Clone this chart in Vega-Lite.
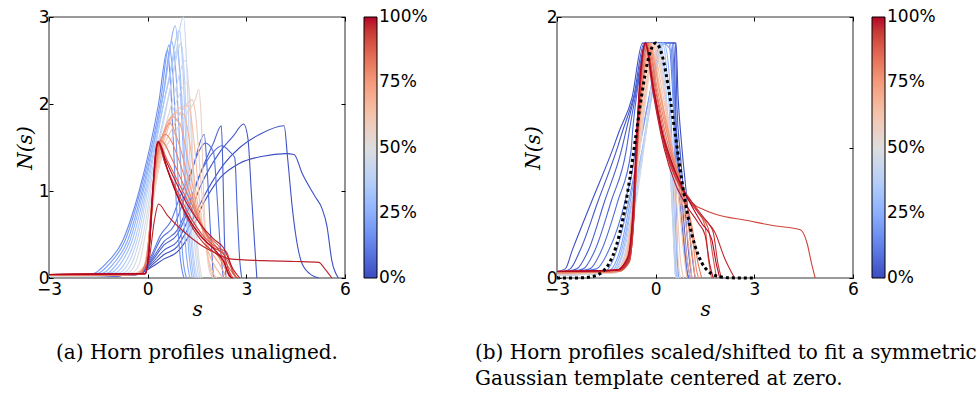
{
"$schema": "https://vega.github.io/schema/vega-lite/v6.json",
"background": "white",
"padding": {"left": 14, "top": 7, "right": 5, "bottom": 5},
"config": {
 "view": {"stroke": "#7a7a7a", "strokeWidth": 1.6},
 "axis": {"labelFont": "DejaVu Sans", "labelFontSize": 17, "labelColor": "#000", "tickColor": "#000", "tickSize": -4, "tickWidth": 1, "domain": false, "grid": false, "labelFlush": false, "labelOverlap": false, "labelBound": false, "format": "d", "titleFont": "DejaVu Serif", "titleFontStyle": "italic", "titleFontWeight": "normal", "titleFontSize": 20, "titleColor": "#000"},
 "legend": {"gradientLength": 261, "gradientThickness": 13, "gradientStrokeColor": "#000", "gradientStrokeWidth": 1, "labelFont": "DejaVu Sans", "labelFontSize": 17, "labelColor": "#000", "labelOffset": 2, "labelBaseline": "middle", "labelOverlap": false, "offset": 18, "padding": 0},
 "title": {"font": "DejaVu Serif", "fontSize": 20, "fontWeight": "normal", "color": "#000", "orient": "bottom", "lineHeight": 26}
},
"datasets": {
"a": [
{"p":0.5,"s":-3,"n":0.02},{"p":0.5,"s":-1.5,"n":0.02},{"p":0.5,"s":-0.3,"n":0.04},{"p":0.5,"s":0.1,"n":0.12},{"p":0.5,"s":0.5,"n":0.22},{"p":0.5,"s":0.9,"n":0.3},{"p":0.5,"s":1.2,"n":0.45},{"p":0.5,"s":1.7,"n":0.86},{"p":0.5,"s":2.2,"n":1.15},{"p":0.5,"s":2.8,"n":1.32},{"p":0.5,"s":3.5,"n":1.4},{"p":0.5,"s":4.2,"n":1.43},{"p":0.5,"s":4.45,"n":1.42},{"p":0.5,"s":4.7,"n":1.2},{"p":0.5,"s":5.1,"n":0.93},{"p":0.5,"s":5.3,"n":0.8},{"p":0.5,"s":5.45,"n":0.6},{"p":0.5,"s":5.6,"n":0.2},{"p":0.5,"s":5.8,"n":0},
{"p":1.5,"s":-3,"n":0.02},{"p":1.5,"s":-1.5,"n":0.02},{"p":1.5,"s":-0.3,"n":0.04},{"p":1.5,"s":0.1,"n":0.14},{"p":1.5,"s":0.5,"n":0.27},{"p":1.5,"s":0.9,"n":0.36},{"p":1.5,"s":1.2,"n":0.55},{"p":1.5,"s":1.8,"n":1.0},{"p":1.5,"s":2.3,"n":1.3},{"p":1.5,"s":2.8,"n":1.5},{"p":1.5,"s":3.4,"n":1.65},{"p":1.5,"s":4.15,"n":1.75},{"p":1.5,"s":4.25,"n":1.4},{"p":1.5,"s":4.4,"n":0.8},{"p":1.5,"s":4.5,"n":0.5},{"p":1.5,"s":4.7,"n":0.16},{"p":1.5,"s":5.0,"n":0.03},{"p":1.5,"s":5.2,"n":0},
{"p":3,"s":-3,"n":0.02},{"p":3,"s":-1.5,"n":0.02},{"p":3,"s":-0.3,"n":0.04},{"p":3,"s":0.1,"n":0.16},{"p":3,"s":0.5,"n":0.32},{"p":3,"s":0.9,"n":0.42},{"p":3,"s":1.2,"n":0.65},{"p":3,"s":1.6,"n":1.05},{"p":3,"s":2.2,"n":1.45},{"p":3,"s":2.6,"n":1.63},{"p":3,"s":2.92,"n":1.77},{"p":3,"s":3.05,"n":1.6},{"p":3,"s":3.15,"n":1.0},{"p":3,"s":3.25,"n":0.4},{"p":3,"s":3.32,"n":0},
{"p":4.5,"s":-3,"n":0.02},{"p":4.5,"s":-1.5,"n":0.02},{"p":4.5,"s":-0.3,"n":0.04},{"p":4.5,"s":0.1,"n":0.18},{"p":4.5,"s":0.5,"n":0.38},{"p":4.5,"s":0.9,"n":0.5},{"p":4.5,"s":1.2,"n":0.75},{"p":4.5,"s":1.6,"n":1.2},{"p":4.5,"s":2.0,"n":1.55},{"p":4.5,"s":2.24,"n":1.75},{"p":4.5,"s":2.29,"n":1.2},{"p":4.5,"s":2.33,"n":0.5},{"p":4.5,"s":2.38,"n":0},
{"p":6,"s":-3,"n":0.02},{"p":6,"s":-1.5,"n":0.02},{"p":6,"s":-0.3,"n":0.04},{"p":6,"s":0.1,"n":0.2},{"p":6,"s":0.5,"n":0.42},{"p":6,"s":0.9,"n":0.55},{"p":6,"s":1.2,"n":0.8},{"p":6,"s":1.6,"n":1.2},{"p":6,"s":2.0,"n":1.45},{"p":6,"s":2.26,"n":1.52},{"p":6,"s":2.5,"n":1.45},{"p":6,"s":2.65,"n":1.38},{"p":6,"s":2.72,"n":0.8},{"p":6,"s":2.8,"n":0.2},{"p":6,"s":2.86,"n":0},
{"p":7.5,"s":-3,"n":0.02},{"p":7.5,"s":-1.5,"n":0.02},{"p":7.5,"s":-0.3,"n":0.04},{"p":7.5,"s":0.1,"n":0.22},{"p":7.5,"s":0.4,"n":0.45},{"p":7.5,"s":0.8,"n":0.6},{"p":7.5,"s":1.1,"n":0.9},{"p":7.5,"s":1.4,"n":1.3},{"p":7.5,"s":1.72,"n":1.65},{"p":7.5,"s":1.8,"n":1.3},{"p":7.5,"s":1.9,"n":0.6},{"p":7.5,"s":2.0,"n":0},
{"p":9,"s":-3,"n":0.02},{"p":9,"s":-1.5,"n":0.02},{"p":9,"s":-0.3,"n":0.05},{"p":9,"s":0.1,"n":0.25},{"p":9,"s":0.4,"n":0.5},{"p":9,"s":0.7,"n":0.65},{"p":9,"s":1.0,"n":0.95},{"p":9,"s":1.3,"n":1.2},{"p":9,"s":1.55,"n":1.45},{"p":9,"s":1.75,"n":1.55},{"p":9,"s":2.0,"n":1.45},{"p":9,"s":2.1,"n":1.0},{"p":9,"s":2.2,"n":0.4},{"p":9,"s":2.3,"n":0},
{"p":15,"s":-3,"n":0.02},{"p":15,"s":-1.9,"n":0.03},{"p":15,"s":-1.58,"n":0.06},{"p":15,"s":-1.28,"n":0.16},{"p":15,"s":-0.77,"n":0.42},{"p":15,"s":-0.26,"n":1.0},{"p":15,"s":0.33,"n":2.0},{"p":15,"s":0.6,"n":2.62},{"p":15,"s":0.7,"n":2.2},{"p":15,"s":0.85,"n":1.0},{"p":15,"s":1.0,"n":0.2},{"p":15,"s":1.1,"n":0},
{"p":19,"s":-3,"n":0.02},{"p":19,"s":-1.8,"n":0.03},{"p":19,"s":-1.46,"n":0.06},{"p":19,"s":-1.17,"n":0.16},{"p":19,"s":-0.7,"n":0.42},{"p":19,"s":-0.22,"n":1.0},{"p":19,"s":0.4,"n":2.05},{"p":19,"s":0.65,"n":2.68},{"p":19,"s":0.77,"n":2.3},{"p":19,"s":0.93,"n":1.1},{"p":19,"s":1.08,"n":0.2},{"p":19,"s":1.18,"n":0},
{"p":23,"s":-3,"n":0.02},{"p":23,"s":-1.7,"n":0.03},{"p":23,"s":-1.33,"n":0.06},{"p":23,"s":-1.05,"n":0.16},{"p":23,"s":-0.62,"n":0.42},{"p":23,"s":-0.17,"n":1.0},{"p":23,"s":0.47,"n":2.1},{"p":23,"s":0.73,"n":2.72},{"p":23,"s":0.85,"n":2.4},{"p":23,"s":1.02,"n":1.2},{"p":23,"s":1.18,"n":0.25},{"p":23,"s":1.28,"n":0},
{"p":27,"s":-3,"n":0.02},{"p":27,"s":-1.6,"n":0.03},{"p":27,"s":-1.2,"n":0.06},{"p":27,"s":-0.94,"n":0.16},{"p":27,"s":-0.55,"n":0.42},{"p":27,"s":-0.13,"n":1.0},{"p":27,"s":0.52,"n":2.2},{"p":27,"s":0.84,"n":2.9},{"p":27,"s":0.95,"n":2.5},{"p":27,"s":1.1,"n":1.3},{"p":27,"s":1.25,"n":0.3},{"p":27,"s":1.35,"n":0},
{"p":31,"s":-3,"n":0.02},{"p":31,"s":-1.5,"n":0.03},{"p":31,"s":-1.1,"n":0.06},{"p":31,"s":-0.83,"n":0.16},{"p":31,"s":-0.48,"n":0.42},{"p":31,"s":-0.08,"n":1.0},{"p":31,"s":0.6,"n":2.2},{"p":31,"s":0.9,"n":2.62},{"p":31,"s":1.0,"n":2.3},{"p":31,"s":1.15,"n":1.2},{"p":31,"s":1.3,"n":0.3},{"p":31,"s":1.4,"n":0},
{"p":35,"s":-3,"n":0.02},{"p":35,"s":-1.4,"n":0.03},{"p":35,"s":-0.97,"n":0.06},{"p":35,"s":-0.71,"n":0.16},{"p":35,"s":-0.4,"n":0.42},{"p":35,"s":-0.04,"n":1.0},{"p":35,"s":0.65,"n":2.3},{"p":35,"s":0.97,"n":2.85},{"p":35,"s":1.07,"n":2.4},{"p":35,"s":1.2,"n":1.2},{"p":35,"s":1.35,"n":0.3},{"p":35,"s":1.45,"n":0},
{"p":39,"s":-3,"n":0.02},{"p":39,"s":-1.3,"n":0.03},{"p":39,"s":-0.85,"n":0.06},{"p":39,"s":-0.6,"n":0.16},{"p":39,"s":-0.33,"n":0.42},{"p":39,"s":0.0,"n":1.0},{"p":39,"s":0.7,"n":2.2},{"p":39,"s":1.02,"n":2.7},{"p":39,"s":1.12,"n":2.3},{"p":39,"s":1.25,"n":1.1},{"p":39,"s":1.4,"n":0.25},{"p":39,"s":1.5,"n":0},
{"p":43,"s":-3,"n":0.02},{"p":43,"s":-1.2,"n":0.03},{"p":43,"s":-0.72,"n":0.06},{"p":43,"s":-0.49,"n":0.16},{"p":43,"s":-0.26,"n":0.42},{"p":43,"s":0.05,"n":1.0},{"p":43,"s":0.75,"n":2.3},{"p":43,"s":1.09,"n":3.0},{"p":43,"s":1.18,"n":2.5},{"p":43,"s":1.3,"n":1.2},{"p":43,"s":1.45,"n":0.3},{"p":43,"s":1.55,"n":0},
{"p":47,"s":-3,"n":0.02},{"p":47,"s":-1.1,"n":0.03},{"p":47,"s":-0.6,"n":0.06},{"p":47,"s":-0.38,"n":0.16},{"p":47,"s":-0.18,"n":0.42},{"p":47,"s":0.1,"n":1.0},{"p":47,"s":0.8,"n":2.1},{"p":47,"s":1.15,"n":2.5},{"p":47,"s":1.25,"n":2.2},{"p":47,"s":1.38,"n":1.1},{"p":47,"s":1.5,"n":0.3},{"p":47,"s":1.6,"n":0},
{"p":51,"s":-3,"n":0.02},{"p":51,"s":-1.0,"n":0.03},{"p":51,"s":-0.47,"n":0.06},{"p":51,"s":-0.26,"n":0.16},{"p":51,"s":-0.11,"n":0.42},{"p":51,"s":0.14,"n":1.0},{"p":51,"s":0.9,"n":2.05},{"p":51,"s":1.2,"n":2.25},{"p":51,"s":1.3,"n":2.0},{"p":51,"s":1.42,"n":1.0},{"p":51,"s":1.55,"n":0.25},{"p":51,"s":1.65,"n":0},
{"p":56,"s":-3,"n":0.03},{"p":56,"s":-0.6,"n":0.04},{"p":56,"s":-0.15,"n":0.1},{"p":56,"s":0.05,"n":0.45},{"p":56,"s":0.2,"n":0.95},{"p":56,"s":0.4,"n":1.35},{"p":56,"s":0.8,"n":1.65},{"p":56,"s":1.2,"n":1.9},{"p":56,"s":1.45,"n":2.05},{"p":56,"s":1.55,"n":2.17},{"p":56,"s":1.62,"n":1.9},{"p":56,"s":1.7,"n":1.0},{"p":56,"s":1.8,"n":0.3},{"p":56,"s":1.9,"n":0.05},{"p":56,"s":2.0,"n":0},
{"p":60,"s":-3,"n":0.03},{"p":60,"s":-0.5,"n":0.04},{"p":60,"s":-0.12,"n":0.12},{"p":60,"s":0.07,"n":0.55},{"p":60,"s":0.22,"n":1.05},{"p":60,"s":0.4,"n":1.4},{"p":60,"s":0.75,"n":1.72},{"p":60,"s":1.1,"n":1.95},{"p":60,"s":1.35,"n":2.05},{"p":60,"s":1.45,"n":1.9},{"p":60,"s":1.6,"n":1.2},{"p":60,"s":1.75,"n":0.5},{"p":60,"s":1.9,"n":0.1},{"p":60,"s":2.0,"n":0},
{"p":64,"s":-3,"n":0.03},{"p":64,"s":-0.45,"n":0.04},{"p":64,"s":-0.1,"n":0.14},{"p":64,"s":0.08,"n":0.6},{"p":64,"s":0.22,"n":1.1},{"p":64,"s":0.4,"n":1.45},{"p":64,"s":0.65,"n":1.75},{"p":64,"s":0.95,"n":1.95},{"p":64,"s":1.25,"n":1.98},{"p":64,"s":1.4,"n":1.6},{"p":64,"s":1.6,"n":0.8},{"p":64,"s":1.8,"n":0.3},{"p":64,"s":2.0,"n":0.05},{"p":64,"s":2.1,"n":0},
{"p":68,"s":-3,"n":0.03},{"p":68,"s":-0.4,"n":0.04},{"p":68,"s":-0.08,"n":0.15},{"p":68,"s":0.09,"n":0.65},{"p":68,"s":0.22,"n":1.15},{"p":68,"s":0.4,"n":1.5},{"p":68,"s":0.6,"n":1.75},{"p":68,"s":0.85,"n":1.9},{"p":68,"s":1.1,"n":1.88},{"p":68,"s":1.3,"n":1.5},{"p":68,"s":1.5,"n":0.9},{"p":68,"s":1.8,"n":0.35},{"p":68,"s":2.1,"n":0.1},{"p":68,"s":2.3,"n":0},
{"p":72,"s":-3,"n":0.03},{"p":72,"s":-0.35,"n":0.04},{"p":72,"s":-0.06,"n":0.17},{"p":72,"s":0.1,"n":0.7},{"p":72,"s":0.23,"n":1.2},{"p":72,"s":0.4,"n":1.55},{"p":72,"s":0.55,"n":1.75},{"p":72,"s":0.75,"n":1.85},{"p":72,"s":1.0,"n":1.75},{"p":72,"s":1.25,"n":1.3},{"p":72,"s":1.5,"n":0.8},{"p":72,"s":1.8,"n":0.4},{"p":72,"s":2.2,"n":0.15},{"p":72,"s":2.4,"n":0},
{"p":76,"s":-3,"n":0.03},{"p":76,"s":-0.3,"n":0.04},{"p":76,"s":-0.05,"n":0.18},{"p":76,"s":0.1,"n":0.75},{"p":76,"s":0.24,"n":1.25},{"p":76,"s":0.4,"n":1.58},{"p":76,"s":0.55,"n":1.72},{"p":76,"s":0.68,"n":1.78},{"p":76,"s":0.9,"n":1.6},{"p":76,"s":1.2,"n":1.2},{"p":76,"s":1.5,"n":0.75},{"p":76,"s":1.9,"n":0.4},{"p":76,"s":2.3,"n":0.15},{"p":76,"s":2.5,"n":0},
{"p":80,"s":-3,"n":0.03},{"p":80,"s":-0.28,"n":0.04},{"p":80,"s":-0.04,"n":0.2},{"p":80,"s":0.11,"n":0.8},{"p":80,"s":0.25,"n":1.3},{"p":80,"s":0.4,"n":1.6},{"p":80,"s":0.55,"n":1.65},{"p":80,"s":0.75,"n":1.55},{"p":80,"s":1.0,"n":1.3},{"p":80,"s":1.3,"n":0.95},{"p":80,"s":1.6,"n":0.65},{"p":80,"s":2.0,"n":0.35},{"p":80,"s":2.4,"n":0.12},{"p":80,"s":2.6,"n":0},
{"p":84,"s":-3,"n":0.03},{"p":84,"s":-0.25,"n":0.04},{"p":84,"s":-0.02,"n":0.22},{"p":84,"s":0.12,"n":0.85},{"p":84,"s":0.25,"n":1.35},{"p":84,"s":0.38,"n":1.58},{"p":84,"s":0.5,"n":1.55},{"p":84,"s":0.7,"n":1.4},{"p":84,"s":1.0,"n":1.15},{"p":84,"s":1.4,"n":0.8},{"p":84,"s":1.8,"n":0.5},{"p":84,"s":2.2,"n":0.3},{"p":84,"s":2.5,"n":0.1},{"p":84,"s":2.7,"n":0},
{"p":88,"s":-3,"n":0.04},{"p":88,"s":-0.1,"n":0.05},{"p":88,"s":0.03,"n":0.25},{"p":88,"s":0.14,"n":0.85},{"p":88,"s":0.25,"n":1.42},{"p":88,"s":0.33,"n":1.55},{"p":88,"s":0.6,"n":1.35},{"p":88,"s":1.0,"n":1.05},{"p":88,"s":1.4,"n":0.75},{"p":88,"s":1.8,"n":0.5},{"p":88,"s":2.2,"n":0.35},{"p":88,"s":2.5,"n":0.15},{"p":88,"s":2.7,"n":0},
{"p":91,"s":-3,"n":0.04},{"p":91,"s":-0.1,"n":0.05},{"p":91,"s":0.03,"n":0.28},{"p":91,"s":0.15,"n":0.9},{"p":91,"s":0.25,"n":1.45},{"p":91,"s":0.32,"n":1.56},{"p":91,"s":0.55,"n":1.3},{"p":91,"s":0.9,"n":1.0},{"p":91,"s":1.3,"n":0.7},{"p":91,"s":1.7,"n":0.48},{"p":91,"s":2.1,"n":0.35},{"p":91,"s":2.4,"n":0.3},{"p":91,"s":2.6,"n":0.05},{"p":91,"s":2.75,"n":0},
{"p":94,"s":-3,"n":0.04},{"p":94,"s":-0.08,"n":0.05},{"p":94,"s":0.04,"n":0.3},{"p":94,"s":0.15,"n":0.95},{"p":94,"s":0.25,"n":1.47},{"p":94,"s":0.31,"n":1.57},{"p":94,"s":0.5,"n":1.35},{"p":94,"s":0.8,"n":1.05},{"p":94,"s":1.2,"n":0.72},{"p":94,"s":1.6,"n":0.48},{"p":94,"s":2.0,"n":0.35},{"p":94,"s":2.3,"n":0.28},{"p":94,"s":2.45,"n":0.1},{"p":94,"s":2.55,"n":0},
{"p":96,"s":-3,"n":0.04},{"p":96,"s":-0.08,"n":0.05},{"p":96,"s":0.04,"n":0.32},{"p":96,"s":0.15,"n":0.98},{"p":96,"s":0.26,"n":1.5},{"p":96,"s":0.32,"n":1.55},{"p":96,"s":0.55,"n":1.3},{"p":96,"s":0.9,"n":0.95},{"p":96,"s":1.3,"n":0.62},{"p":96,"s":1.7,"n":0.4},{"p":96,"s":2.0,"n":0.3},{"p":96,"s":2.3,"n":0.2},{"p":96,"s":2.45,"n":0.05},{"p":96,"s":2.55,"n":0},
{"p":97.5,"s":-3,"n":0.04},{"p":97.5,"s":-0.08,"n":0.05},{"p":97.5,"s":0.06,"n":0.25},{"p":97.5,"s":0.2,"n":0.65},{"p":97.5,"s":0.33,"n":0.85},{"p":97.5,"s":0.6,"n":0.72},{"p":97.5,"s":1.2,"n":0.5},{"p":97.5,"s":1.7,"n":0.36},{"p":97.5,"s":2.0,"n":0.3},{"p":97.5,"s":2.5,"n":0.22},{"p":97.5,"s":3.5,"n":0.2},{"p":97.5,"s":4.5,"n":0.19},{"p":97.5,"s":5.2,"n":0.18},{"p":97.5,"s":5.4,"n":0.1},{"p":97.5,"s":5.6,"n":0},
{"p":99,"s":-3,"n":0.04},{"p":99,"s":-0.06,"n":0.05},{"p":99,"s":0.05,"n":0.35},{"p":99,"s":0.16,"n":1.0},{"p":99,"s":0.27,"n":1.5},{"p":99,"s":0.32,"n":1.57},{"p":99,"s":0.5,"n":1.4},{"p":99,"s":0.8,"n":1.15},{"p":99,"s":1.2,"n":0.85},{"p":99,"s":1.6,"n":0.62},{"p":99,"s":2.0,"n":0.45},{"p":99,"s":2.3,"n":0.35},{"p":99,"s":2.6,"n":0.1},{"p":99,"s":2.8,"n":0},
{"p":100,"s":-3,"n":0.04},{"p":100,"s":-0.06,"n":0.05},{"p":100,"s":0.05,"n":0.38},{"p":100,"s":0.16,"n":1.05},{"p":100,"s":0.28,"n":1.52},{"p":100,"s":0.34,"n":1.56},{"p":100,"s":0.6,"n":1.25},{"p":100,"s":0.95,"n":0.9},{"p":100,"s":1.3,"n":0.65},{"p":100,"s":1.7,"n":0.45},{"p":100,"s":2.1,"n":0.3},{"p":100,"s":2.3,"n":0.2},{"p":100,"s":2.5,"n":0.02},{"p":100,"s":2.6,"n":0}
],
"b": [
{"p":1,"s":-3,"n":0.05},{"p":1,"s":-2.75,"n":0.07},{"p":1,"s":-2.54,"n":0.21},{"p":1,"s":-1.94,"n":0.59},{"p":1,"s":-1.33,"n":0.97},{"p":1,"s":-1.1,"n":1.13},{"p":1,"s":-0.72,"n":1.38},{"p":1,"s":-0.4,"n":1.8},{"p":1,"s":0.62,"n":1.8},{"p":1,"s":0.68,"n":1.4},{"p":1,"s":0.78,"n":1.05},{"p":1,"s":0.95,"n":0.6},{"p":1,"s":1.05,"n":0.3},{"p":1,"s":1.2,"n":0},
{"p":2.5,"s":-3,"n":0.04},{"p":2.5,"s":-2.6,"n":0.07},{"p":2.5,"s":-2.3,"n":0.21},{"p":2.5,"s":-1.75,"n":0.59},{"p":2.5,"s":-1.2,"n":0.97},{"p":2.5,"s":-1.0,"n":1.13},{"p":2.5,"s":-0.66,"n":1.4},{"p":2.5,"s":-0.35,"n":1.8},{"p":2.5,"s":0.6,"n":1.8},{"p":2.5,"s":0.65,"n":1.3},{"p":2.5,"s":0.75,"n":0.95},{"p":2.5,"s":0.9,"n":0.5},{"p":2.5,"s":1.0,"n":0.2},{"p":2.5,"s":1.1,"n":0},
{"p":4,"s":-3,"n":0.04},{"p":4,"s":-2.4,"n":0.07},{"p":4,"s":-2.05,"n":0.21},{"p":4,"s":-1.55,"n":0.59},{"p":4,"s":-1.05,"n":0.97},{"p":4,"s":-0.9,"n":1.13},{"p":4,"s":-0.62,"n":1.42},{"p":4,"s":-0.3,"n":1.8},{"p":4,"s":0.55,"n":1.8},{"p":4,"s":0.62,"n":1.2},{"p":4,"s":0.72,"n":0.85},{"p":4,"s":0.85,"n":0.45},{"p":4,"s":0.95,"n":0.15},{"p":4,"s":1.05,"n":0},
{"p":5.5,"s":-3,"n":0.03},{"p":5.5,"s":-2.2,"n":0.07},{"p":5.5,"s":-1.85,"n":0.21},{"p":5.5,"s":-1.35,"n":0.59},{"p":5.5,"s":-0.9,"n":0.97},{"p":5.5,"s":-0.8,"n":1.13},{"p":5.5,"s":-0.58,"n":1.44},{"p":5.5,"s":-0.28,"n":1.8},{"p":5.5,"s":0.5,"n":1.8},{"p":5.5,"s":0.6,"n":1.25},{"p":5.5,"s":0.7,"n":0.8},{"p":5.5,"s":0.82,"n":0.4},{"p":5.5,"s":0.92,"n":0.1},{"p":5.5,"s":1.0,"n":0},
{"p":7,"s":-3,"n":0.03},{"p":7,"s":-2.0,"n":0.07},{"p":7,"s":-1.65,"n":0.21},{"p":7,"s":-1.15,"n":0.59},{"p":7,"s":-0.75,"n":0.97},{"p":7,"s":-0.7,"n":1.13},{"p":7,"s":-0.55,"n":1.45},{"p":7,"s":-0.25,"n":1.8},{"p":7,"s":0.45,"n":1.8},{"p":7,"s":0.58,"n":1.2},{"p":7,"s":0.7,"n":0.7},{"p":7,"s":0.85,"n":0.3},{"p":7,"s":0.95,"n":0.05},{"p":7,"s":1.0,"n":0},
{"p":9,"s":-3,"n":0.03},{"p":9,"s":-1.8,"n":0.07},{"p":9,"s":-1.43,"n":0.21},{"p":9,"s":-0.93,"n":0.59},{"p":9,"s":-0.63,"n":0.97},{"p":9,"s":-0.58,"n":1.13},{"p":9,"s":-0.48,"n":1.45},{"p":9,"s":-0.2,"n":1.8},{"p":9,"s":0.4,"n":1.8},{"p":9,"s":0.55,"n":1.3},{"p":9,"s":0.7,"n":0.75},{"p":9,"s":0.85,"n":0.3},{"p":9,"s":0.95,"n":0.05},{"p":9,"s":1.0,"n":0},
{"p":16,"s":-3,"n":0.02},{"p":16,"s":-1.6,"n":0.04},{"p":16,"s":-1.2,"n":0.2},{"p":16,"s":-0.85,"n":0.55},{"p":16,"s":-0.5,"n":1.0},{"p":16,"s":-0.15,"n":1.45},{"p":16,"s":0.15,"n":1.8},{"p":16,"s":0.5,"n":1.8},{"p":16,"s":0.58,"n":1.2},{"p":16,"s":0.63,"n":0.5},{"p":16,"s":0.68,"n":0.05},{"p":16,"s":0.7,"n":0},
{"p":21,"s":-3,"n":0.02},{"p":21,"s":-1.5,"n":0.04},{"p":21,"s":-1.1,"n":0.2},{"p":21,"s":-0.8,"n":0.55},{"p":21,"s":-0.45,"n":1.05},{"p":21,"s":-0.1,"n":1.5},{"p":21,"s":0.2,"n":1.8},{"p":21,"s":0.45,"n":1.75},{"p":21,"s":0.55,"n":1.2},{"p":21,"s":0.6,"n":0.5},{"p":21,"s":0.65,"n":0.05},{"p":21,"s":0.68,"n":0},
{"p":26,"s":-3,"n":0.02},{"p":26,"s":-1.4,"n":0.04},{"p":26,"s":-1.05,"n":0.2},{"p":26,"s":-0.75,"n":0.55},{"p":26,"s":-0.4,"n":1.0},{"p":26,"s":-0.05,"n":1.5},{"p":26,"s":0.25,"n":1.8},{"p":26,"s":0.4,"n":1.6},{"p":26,"s":0.5,"n":1.0},{"p":26,"s":0.57,"n":0.4},{"p":26,"s":0.62,"n":0.05},{"p":26,"s":0.65,"n":0},
{"p":31,"s":-3,"n":0.02},{"p":31,"s":-1.35,"n":0.04},{"p":31,"s":-1.0,"n":0.2},{"p":31,"s":-0.7,"n":0.6},{"p":31,"s":-0.35,"n":1.05},{"p":31,"s":0.0,"n":1.55},{"p":31,"s":0.2,"n":1.8},{"p":31,"s":0.35,"n":1.55},{"p":31,"s":0.48,"n":0.9},{"p":31,"s":0.55,"n":0.35},{"p":31,"s":0.6,"n":0.04},{"p":31,"s":0.63,"n":0},
{"p":36,"s":-3,"n":0.02},{"p":36,"s":-1.3,"n":0.04},{"p":36,"s":-0.95,"n":0.22},{"p":36,"s":-0.65,"n":0.6},{"p":36,"s":-0.3,"n":1.1},{"p":36,"s":0.0,"n":1.6},{"p":36,"s":0.15,"n":1.8},{"p":36,"s":0.3,"n":1.5},{"p":36,"s":0.45,"n":0.8},{"p":36,"s":0.55,"n":0.3},{"p":36,"s":0.6,"n":0.03},{"p":36,"s":0.63,"n":0},
{"p":41,"s":-3,"n":0.02},{"p":41,"s":-1.25,"n":0.04},{"p":41,"s":-0.9,"n":0.22},{"p":41,"s":-0.6,"n":0.62},{"p":41,"s":-0.3,"n":1.15},{"p":41,"s":-0.05,"n":1.6},{"p":41,"s":0.1,"n":1.8},{"p":41,"s":0.3,"n":1.4},{"p":41,"s":0.45,"n":0.8},{"p":41,"s":0.55,"n":0.25},{"p":41,"s":0.6,"n":0.02},{"p":41,"s":0.63,"n":0},
{"p":46,"s":-3,"n":0.02},{"p":46,"s":-1.2,"n":0.04},{"p":46,"s":-0.85,"n":0.22},{"p":46,"s":-0.55,"n":0.65},{"p":46,"s":-0.25,"n":1.2},{"p":46,"s":-0.05,"n":1.65},{"p":46,"s":0.05,"n":1.8},{"p":46,"s":0.3,"n":1.35},{"p":46,"s":0.5,"n":0.7},{"p":46,"s":0.6,"n":0.25},{"p":46,"s":0.66,"n":0.02},{"p":46,"s":0.7,"n":0},
{"p":55,"s":-3,"n":0.03},{"p":55,"s":-1.3,"n":0.04},{"p":55,"s":-0.95,"n":0.15},{"p":55,"s":-0.7,"n":0.5},{"p":55,"s":-0.45,"n":1.05},{"p":55,"s":-0.2,"n":1.55},{"p":55,"s":0.0,"n":1.8},{"p":55,"s":0.25,"n":1.45},{"p":55,"s":0.45,"n":1.0},{"p":55,"s":0.6,"n":0.55},{"p":55,"s":0.68,"n":0.15},{"p":55,"s":0.75,"n":0},
{"p":59,"s":-3,"n":0.03},{"p":59,"s":-1.3,"n":0.04},{"p":59,"s":-0.95,"n":0.15},{"p":59,"s":-0.7,"n":0.55},{"p":59,"s":-0.45,"n":1.1},{"p":59,"s":-0.2,"n":1.6},{"p":59,"s":-0.05,"n":1.8},{"p":59,"s":0.2,"n":1.5},{"p":59,"s":0.5,"n":1.0},{"p":59,"s":0.65,"n":0.55},{"p":59,"s":0.75,"n":0.15},{"p":59,"s":0.85,"n":0},
{"p":63,"s":-3,"n":0.04},{"p":63,"s":-1.25,"n":0.05},{"p":63,"s":-0.9,"n":0.15},{"p":63,"s":-0.7,"n":0.5},{"p":63,"s":-0.5,"n":1.05},{"p":63,"s":-0.25,"n":1.55},{"p":63,"s":-0.1,"n":1.8},{"p":63,"s":0.15,"n":1.5},{"p":63,"s":0.45,"n":1.05},{"p":63,"s":0.7,"n":0.6},{"p":63,"s":0.85,"n":0.2},{"p":63,"s":0.95,"n":0},
{"p":67,"s":-3,"n":0.04},{"p":67,"s":-1.2,"n":0.05},{"p":67,"s":-0.9,"n":0.15},{"p":67,"s":-0.7,"n":0.5},{"p":67,"s":-0.5,"n":1.1},{"p":67,"s":-0.3,"n":1.55},{"p":67,"s":-0.15,"n":1.8},{"p":67,"s":0.1,"n":1.5},{"p":67,"s":0.45,"n":1.0},{"p":67,"s":0.75,"n":0.6},{"p":67,"s":0.9,"n":0.25},{"p":67,"s":1.05,"n":0},
{"p":71,"s":-3,"n":0.04},{"p":71,"s":-1.15,"n":0.05},{"p":71,"s":-0.88,"n":0.15},{"p":71,"s":-0.7,"n":0.55},{"p":71,"s":-0.52,"n":1.1},{"p":71,"s":-0.35,"n":1.55},{"p":71,"s":-0.18,"n":1.8},{"p":71,"s":0.1,"n":1.45},{"p":71,"s":0.45,"n":1.0},{"p":71,"s":0.8,"n":0.6},{"p":71,"s":1.0,"n":0.25},{"p":71,"s":1.1,"n":0},
{"p":75,"s":-3,"n":0.04},{"p":75,"s":-1.1,"n":0.05},{"p":75,"s":-0.85,"n":0.15},{"p":75,"s":-0.7,"n":0.5},{"p":75,"s":-0.53,"n":1.1},{"p":75,"s":-0.38,"n":1.55},{"p":75,"s":-0.2,"n":1.8},{"p":75,"s":0.1,"n":1.45},{"p":75,"s":0.5,"n":1.0},{"p":75,"s":0.85,"n":0.6},{"p":75,"s":1.05,"n":0.3},{"p":75,"s":1.2,"n":0},
{"p":79,"s":-3,"n":0.04},{"p":79,"s":-1.1,"n":0.05},{"p":79,"s":-0.85,"n":0.12},{"p":79,"s":-0.7,"n":0.45},{"p":79,"s":-0.55,"n":1.05},{"p":79,"s":-0.4,"n":1.5},{"p":79,"s":-0.22,"n":1.8},{"p":79,"s":0.05,"n":1.45},{"p":79,"s":0.45,"n":1.0},{"p":79,"s":0.85,"n":0.65},{"p":79,"s":1.1,"n":0.35},{"p":79,"s":1.25,"n":0.05},{"p":79,"s":1.3,"n":0},
{"p":83,"s":-3,"n":0.04},{"p":83,"s":-1.1,"n":0.05},{"p":83,"s":-0.82,"n":0.12},{"p":83,"s":-0.68,"n":0.4},{"p":83,"s":-0.55,"n":1.0},{"p":83,"s":-0.42,"n":1.5},{"p":83,"s":-0.25,"n":1.8},{"p":83,"s":0.05,"n":1.4},{"p":83,"s":0.4,"n":1.0},{"p":83,"s":0.8,"n":0.7},{"p":83,"s":1.1,"n":0.4},{"p":83,"s":1.3,"n":0.1},{"p":83,"s":1.4,"n":0},
{"p":87,"s":-3,"n":0.05},{"p":87,"s":-1.1,"n":0.06},{"p":87,"s":-0.8,"n":0.12},{"p":87,"s":-0.68,"n":0.4},{"p":87,"s":-0.56,"n":1.0},{"p":87,"s":-0.45,"n":1.5},{"p":87,"s":-0.28,"n":1.8},{"p":87,"s":-0.05,"n":1.5},{"p":87,"s":0.3,"n":1.05},{"p":87,"s":0.7,"n":0.75},{"p":87,"s":1.0,"n":0.6},{"p":87,"s":1.3,"n":0.5},{"p":87,"s":1.5,"n":0.4},{"p":87,"s":1.6,"n":0.15},{"p":87,"s":1.7,"n":0},
{"p":90,"s":-3,"n":0.05},{"p":90,"s":-1.1,"n":0.06},{"p":90,"s":-0.8,"n":0.13},{"p":90,"s":-0.68,"n":0.4},{"p":90,"s":-0.57,"n":1.0},{"p":90,"s":-0.46,"n":1.5},{"p":90,"s":-0.3,"n":1.8},{"p":90,"s":-0.05,"n":1.45},{"p":90,"s":0.3,"n":1.0},{"p":90,"s":0.7,"n":0.72},{"p":90,"s":1.0,"n":0.62},{"p":90,"s":1.3,"n":0.5},{"p":90,"s":1.6,"n":0.38},{"p":90,"s":1.75,"n":0.15},{"p":90,"s":1.85,"n":0},
{"p":92.5,"s":-3,"n":0.05},{"p":92.5,"s":-1.1,"n":0.06},{"p":92.5,"s":-0.8,"n":0.14},{"p":92.5,"s":-0.67,"n":0.42},{"p":92.5,"s":-0.56,"n":1.0},{"p":92.5,"s":-0.46,"n":1.5},{"p":92.5,"s":-0.3,"n":1.8},{"p":92.5,"s":-0.05,"n":1.45},{"p":92.5,"s":0.3,"n":1.0},{"p":92.5,"s":0.7,"n":0.75},{"p":92.5,"s":1.1,"n":0.58},{"p":92.5,"s":1.5,"n":0.52},{"p":92.5,"s":1.8,"n":0.49},{"p":92.5,"s":2.8,"n":0.44},{"p":92.5,"s":3.6,"n":0.4},{"p":92.5,"s":4.4,"n":0.37},{"p":92.5,"s":4.6,"n":0.27},{"p":92.5,"s":4.75,"n":0.1},{"p":92.5,"s":4.85,"n":0},
{"p":95,"s":-3,"n":0.05},{"p":95,"s":-1.15,"n":0.06},{"p":95,"s":-0.82,"n":0.14},{"p":95,"s":-0.68,"n":0.42},{"p":95,"s":-0.57,"n":1.0},{"p":95,"s":-0.47,"n":1.5},{"p":95,"s":-0.31,"n":1.8},{"p":95,"s":-0.05,"n":1.4},{"p":95,"s":0.3,"n":0.98},{"p":95,"s":0.7,"n":0.72},{"p":95,"s":1.0,"n":0.6},{"p":95,"s":1.3,"n":0.5},{"p":95,"s":1.6,"n":0.42},{"p":95,"s":1.75,"n":0.35},{"p":95,"s":1.9,"n":0.1},{"p":95,"s":2.0,"n":0},
{"p":97,"s":-3,"n":0.05},{"p":97,"s":-1.15,"n":0.06},{"p":97,"s":-0.82,"n":0.15},{"p":97,"s":-0.69,"n":0.45},{"p":97,"s":-0.58,"n":1.0},{"p":97,"s":-0.47,"n":1.5},{"p":97,"s":-0.31,"n":1.8},{"p":97,"s":-0.1,"n":1.5},{"p":97,"s":0.2,"n":1.1},{"p":97,"s":0.6,"n":0.8},{"p":97,"s":0.9,"n":0.65},{"p":97,"s":1.2,"n":0.55},{"p":97,"s":1.5,"n":0.45},{"p":97,"s":1.8,"n":0.35},{"p":97,"s":2.1,"n":0.15},{"p":97,"s":2.4,"n":0},
{"p":98.5,"s":-3,"n":0.05},{"p":98.5,"s":-1.2,"n":0.06},{"p":98.5,"s":-0.85,"n":0.15},{"p":98.5,"s":-0.7,"n":0.45},{"p":98.5,"s":-0.59,"n":1.0},{"p":98.5,"s":-0.48,"n":1.5},{"p":98.5,"s":-0.32,"n":1.8},{"p":98.5,"s":-0.1,"n":1.45},{"p":98.5,"s":0.25,"n":1.0},{"p":98.5,"s":0.6,"n":0.72},{"p":98.5,"s":0.95,"n":0.55},{"p":98.5,"s":1.3,"n":0.42},{"p":98.5,"s":1.5,"n":0.33},{"p":98.5,"s":1.65,"n":0.1},{"p":98.5,"s":1.75,"n":0},
{"p":100,"s":-3,"n":0.05},{"p":100,"s":-1.2,"n":0.06},{"p":100,"s":-0.85,"n":0.16},{"p":100,"s":-0.7,"n":0.48},{"p":100,"s":-0.59,"n":1.05},{"p":100,"s":-0.48,"n":1.52},{"p":100,"s":-0.31,"n":1.8},{"p":100,"s":-0.1,"n":1.5},{"p":100,"s":0.2,"n":1.12},{"p":100,"s":0.5,"n":0.88},{"p":100,"s":0.8,"n":0.7},{"p":100,"s":1.1,"n":0.55},{"p":100,"s":1.4,"n":0.42},{"p":100,"s":1.7,"n":0.3},{"p":100,"s":1.85,"n":0.1},{"p":100,"s":1.95,"n":0}
],
"g": [
{"s":-3,"n":0},{"s":-2.6,"n":0.0001},{"s":-2.2,"n":0.002},{"s":-2.0,"n":0.007},{"s":-1.8,"n":0.02},{"s":-1.6,"n":0.051},{"s":-1.4,"n":0.118},{"s":-1.2,"n":0.244},{"s":-1.0,"n":0.449},{"s":-0.8,"n":0.74},{"s":-0.6,"n":1.092},{"s":-0.4,"n":1.441},{"s":-0.2,"n":1.703},{"s":0,"n":1.8},{"s":0.2,"n":1.703},{"s":0.4,"n":1.441},{"s":0.6,"n":1.092},{"s":0.8,"n":0.74},{"s":1.0,"n":0.449},{"s":1.2,"n":0.244},{"s":1.4,"n":0.118},{"s":1.6,"n":0.051},{"s":1.8,"n":0.02},{"s":2.0,"n":0.007},{"s":2.2,"n":0.002},{"s":2.6,"n":0.0001},{"s":3,"n":0}
],
"z": [{"s":0,"n":0}]
},
"bounds": "flush",
"spacing": 212,
"resolve": {"scale": {"color": "independent"}},
"hconcat": [
{
 "width": 296, "height": 261,
 "title": {"text": "(a) Horn profiles unaligned.", "anchor": "middle", "offset": 24},
 "resolve": {"axis": {"x": "independent", "y": "independent"}},
 "layer": [
  {"data": {"name": "a"},
   "mark": {"type": "line", "strokeWidth": 1.1, "interpolate": "monotone"},
   "encoding": {
    "x": {"field": "s", "type": "quantitative", "scale": {"domain": [-3, 6], "nice": false, "zero": false}, "axis": {"orient": "bottom", "values": [-3, 0, 3, 6], "title": "s", "labelPadding": 7, "titlePadding": 2}},
    "y": {"field": "n", "type": "quantitative", "scale": {"domain": [0, 3], "nice": false, "zero": false}, "axis": {"orient": "left", "values": [0, 1, 2, 3], "title": "N(s)", "labelPadding": 4, "titlePadding": 3}},
    "color": {"field": "p", "type": "quantitative",
      "scale": {"domain": [0, 12.5, 25, 37.5, 50, 62.5, 75, 87.5, 100], "range": ["#3b4cc0", "#6282ea", "#8db0fe", "#b8d0f9", "#dddddd", "#f5c4ad", "#f49a7b", "#de604d", "#b40426"]},
      "legend": {"title": null, "values": [0, 25, 50, 75, 100], "labelExpr": "datum.value + '%'", "gradientLength": 261, "gradientThickness": 13, "labelBaseline": "middle", "encode": {"labels": {"update": {"baseline": {"value": "middle"}}}}}},
    "detail": {"field": "p"}
   }},
  {"data": {"name": "z"},
   "mark": {"type": "point", "opacity": 0},
   "encoding": {
    "x": {"field": "s", "type": "quantitative", "scale": {"domain": [-3, 6], "nice": false, "zero": false}, "axis": {"orient": "top", "values": [-3, 0, 3, 6], "labels": false, "title": null}},
    "y": {"field": "n", "type": "quantitative", "scale": {"domain": [0, 3], "nice": false, "zero": false}, "axis": {"orient": "right", "values": [0, 1, 2, 3], "labels": false, "title": null}}
   }}
 ]
},
{
 "width": 296, "height": 261,
 "title": {"text": ["(b) Horn profiles scaled/shifted to fit a symmetric", "Gaussian template centered at zero."], "anchor": "start", "frame": "group", "dx": -82, "offset": 24},
 "resolve": {"axis": {"x": "independent", "y": "independent"}},
 "layer": [
  {"data": {"name": "b"},
   "mark": {"type": "line", "strokeWidth": 1.1, "interpolate": "monotone"},
   "encoding": {
    "x": {"field": "s", "type": "quantitative", "scale": {"domain": [-3, 6], "nice": false, "zero": false}, "axis": {"orient": "bottom", "values": [-3, 0, 3, 6], "title": "s", "labelPadding": 7, "titlePadding": 2}},
    "y": {"field": "n", "type": "quantitative", "scale": {"domain": [0, 2], "nice": false, "zero": false}, "axis": {"orient": "left", "values": [0, 1, 2], "format": "d", "title": "N(s)", "labelPadding": 4, "titlePadding": 3}},
    "color": {"field": "p", "type": "quantitative",
      "scale": {"domain": [0, 12.5, 25, 37.5, 50, 62.5, 75, 87.5, 100], "range": ["#3b4cc0", "#6282ea", "#8db0fe", "#b8d0f9", "#dddddd", "#f5c4ad", "#f49a7b", "#de604d", "#b40426"]},
      "legend": {"title": null, "values": [0, 25, 50, 75, 100], "labelExpr": "datum.value + '%'", "gradientLength": 261, "gradientThickness": 13, "labelBaseline": "middle", "encode": {"labels": {"update": {"baseline": {"value": "middle"}}}}}},
    "detail": {"field": "p"}
   }},
  {"data": {"name": "g"},
   "mark": {"type": "line", "color": "#000", "strokeWidth": 3, "strokeDash": [3, 3], "interpolate": "monotone"},
   "encoding": {
    "x": {"field": "s", "type": "quantitative", "axis": null},
    "y": {"field": "n", "type": "quantitative", "axis": null}
   }},
  {"data": {"name": "z"},
   "mark": {"type": "point", "opacity": 0},
   "encoding": {
    "x": {"field": "s", "type": "quantitative", "axis": {"orient": "top", "values": [-3, 0, 3, 6], "labels": false, "title": null}},
    "y": {"field": "n", "type": "quantitative", "axis": {"orient": "right", "values": [0, 1, 2], "labels": false, "title": null}}
   }}
 ]
}
]
}
